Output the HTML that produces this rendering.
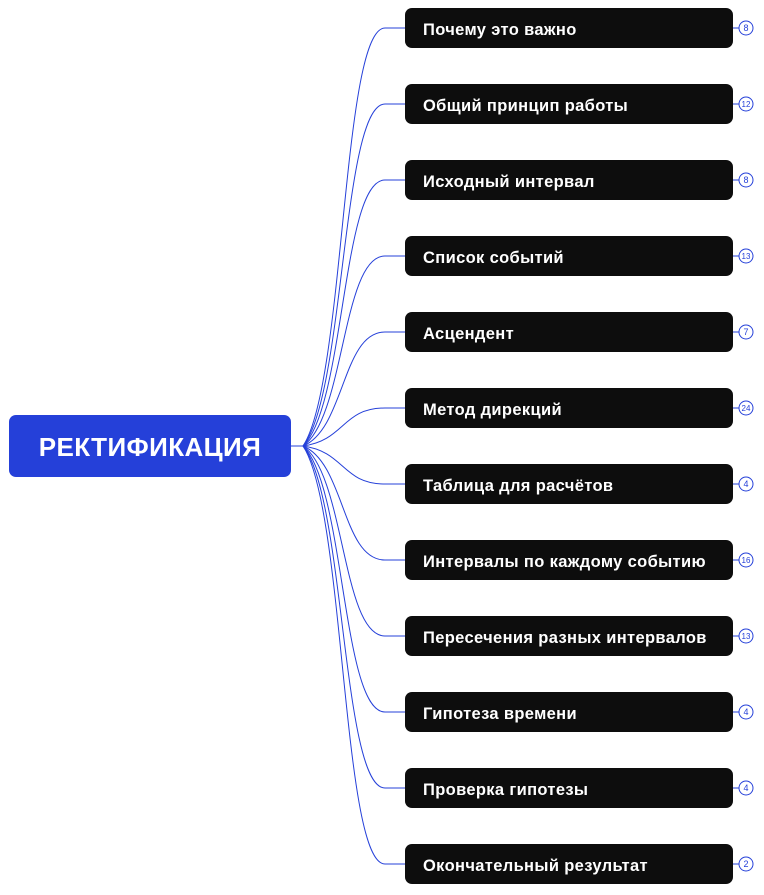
<!DOCTYPE html>
<html><head><meta charset="utf-8"><style>
body{margin:0;width:764px;height:895px;background:#fff;overflow:hidden;font-family:"Liberation Sans",sans-serif}
svg{position:absolute;left:0;top:0}
.root{position:absolute;left:9px;top:415px;width:282px;height:62px;background:#2540d9;border-radius:7px;color:#fff;font-weight:bold;font-size:26px;letter-spacing:0.4px;line-height:64px;text-align:center}
.n{position:absolute;left:405px;width:328px;height:40px;background:#0d0d0d;border-radius:7px;color:#fff;font-weight:bold;font-size:16.5px;letter-spacing:0.35px;line-height:44px;padding-left:18px;box-sizing:border-box;white-space:nowrap}
</style></head><body>
<svg width="764" height="895" id="s"></svg>
<div class="root">РЕКТИФИКАЦИЯ</div>
<div id="c"></div>
<script>
var items=[["Почему это важно",8],["Общий принцип работы",12],["Исходный интервал",8],["Список событий",13],["Асцендент",7],["Метод дирекций",24],["Таблица для расчётов",4],["Интервалы по каждому событию",16],["Пересечения разных интервалов",13],["Гипотеза времени",4],["Проверка гипотезы",4],["Окончательный результат",2]];
var s='<path d="M291 446 L303 446" stroke="#2540d9" stroke-width="1" fill="none"/>',h='';
items.forEach(function(it,i){var cy=28+76*i;
s+='<path d="M303 446 C 345 '+(446+(cy-446)*0.15)+' 342 '+cy+' 385 '+cy+' L405 '+cy+'" stroke="#2540d9" stroke-width="1" fill="none"/>';
s+='<path d="M733 '+cy+' L739 '+cy+'" stroke="#2540d9"/><circle cx="746" cy="'+cy+'" r="7" fill="#fff" stroke="#2540d9" stroke-width="1"/><text x="746" y="'+(cy+3)+'" font-size="'+(it[1]>9?8:9)+'" text-anchor="middle" fill="#2540d9" font-family="Liberation Sans">'+it[1]+'</text>';
h+='<div class="n" style="top:'+(cy-20)+'px">'+it[0]+'</div>';});
document.getElementById('s').innerHTML=s;document.getElementById('c').innerHTML=h;
</script>
</body></html>
